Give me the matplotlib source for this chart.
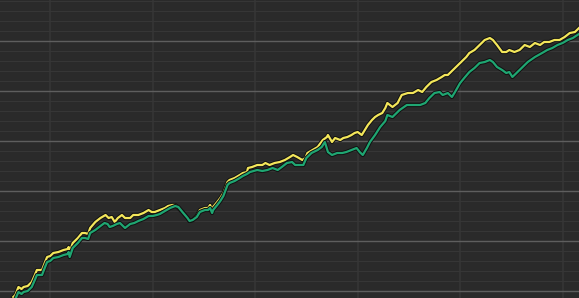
import matplotlib
matplotlib.use("Agg")
import matplotlib.pyplot as plt
import matplotlib.patheffects as pe
from matplotlib.ticker import MultipleLocator

# ---------------------------------------------------------------------
# Data: cumulative return (%) of two strategies, x in decimal years
# ---------------------------------------------------------------------
yellow_x = [
    2014.64, 2014.66, 2014.69, 2014.72, 2014.74, 2014.78, 2014.82, 2014.85, 2014.87, 2014.92,
    2014.95, 2014.97, 2015.00, 2015.03, 2015.08, 2015.13, 2015.17, 2015.18, 2015.19, 2015.22,
    2015.27, 2015.31, 2015.34, 2015.37, 2015.39, 2015.44, 2015.49, 2015.54, 2015.57, 2015.60,
    2015.63, 2015.66, 2015.70, 2015.73, 2015.78, 2015.81, 2015.86, 2015.91, 2015.96, 2015.99,
    2016.02, 2016.07, 2016.12, 2016.15, 2016.19, 2016.22, 2016.24, 2016.29, 2016.34, 2016.36,
    2016.39, 2016.43, 2016.46, 2016.51, 2016.54, 2016.56, 2016.58, 2016.59, 2016.63, 2016.66,
    2016.69, 2016.73, 2016.75, 2016.80, 2016.85, 2016.88, 2016.92, 2016.93, 2016.97, 2017.02,
    2017.07, 2017.10, 2017.14, 2017.19, 2017.24, 2017.29, 2017.34, 2017.37, 2017.41, 2017.46,
    2017.49, 2017.51, 2017.56, 2017.61, 2017.66, 2017.70, 2017.71, 2017.75, 2017.78, 2017.83,
    2017.86, 2017.90, 2017.94, 2017.97, 2018.00, 2018.04, 2018.07, 2018.10, 2018.14, 2018.17,
    2018.20, 2018.24, 2018.27, 2018.29, 2018.34, 2018.39, 2018.43, 2018.49, 2018.54, 2018.59,
    2018.63, 2018.67, 2018.72, 2018.77, 2018.82, 2018.85, 2018.88, 2018.93, 2018.98, 2019.03,
    2019.06, 2019.09, 2019.14, 2019.19, 2019.24, 2019.29, 2019.32, 2019.36, 2019.41, 2019.45,
    2019.48, 2019.53, 2019.58, 2019.63, 2019.68, 2019.73, 2019.78, 2019.82, 2019.87, 2019.92,
    2019.97, 2020.02, 2020.07, 2020.12, 2020.16,
]
yellow_y = [
    -1.2, -0.8, 0.8, 0.4, 0.8, 1.0, 1.8, 3.2, 4.2, 4.2,
    5.8, 6.8, 7.0, 7.6, 7.8, 8.2, 8.4, 8.8, 7.8, 9.6,
    10.6, 11.6, 11.6, 11.4, 12.6, 13.8, 14.6, 15.2, 14.6, 14.8,
    13.8, 14.6, 15.2, 14.6, 14.6, 15.2, 15.2, 15.6, 16.2, 15.8,
    15.8, 16.2, 16.6, 17.0, 17.2, 17.2, 16.8, 15.8, 14.6, 14.0,
    14.2, 15.0, 16.2, 16.6, 16.6, 17.2, 16.2, 16.8, 17.8, 18.6,
    19.6, 21.8, 22.2, 22.6, 23.2, 23.6, 23.8, 24.6, 24.8, 25.2,
    25.2, 25.6, 25.2, 25.6, 25.8, 26.2, 26.8, 27.2, 26.8, 26.2,
    26.6, 27.6, 28.2, 28.8, 30.2, 30.8, 31.2, 29.8, 30.6, 30.2,
    30.6, 30.8, 31.2, 31.6, 31.8, 31.2, 32.2, 33.2, 34.2, 34.8,
    35.2, 35.6, 36.6, 37.6, 36.8, 37.6, 39.2, 39.6, 39.6, 40.2,
    39.8, 40.8, 41.8, 42.2, 42.8, 43.2, 43.2, 44.2, 45.2, 46.2,
    46.8, 47.6, 48.2, 49.2, 50.2, 50.6, 50.2, 49.2, 47.8, 47.8,
    48.2, 47.8, 48.2, 49.2, 48.8, 49.6, 49.2, 49.8, 49.8, 50.2,
    50.2, 50.8, 51.6, 51.8, 52.6,
]

green_x = [
    2014.66, 2014.69, 2014.72, 2014.74, 2014.78, 2014.82, 2014.85, 2014.87, 2014.92, 2014.95,
    2014.97, 2015.00, 2015.03, 2015.08, 2015.13, 2015.17, 2015.18, 2015.19, 2015.22, 2015.27,
    2015.31, 2015.34, 2015.37, 2015.39, 2015.44, 2015.49, 2015.53, 2015.56, 2015.58, 2015.61,
    2015.65, 2015.68, 2015.73, 2015.78, 2015.82, 2015.86, 2015.91, 2015.96, 2016.00, 2016.04,
    2016.07, 2016.12, 2016.17, 2016.22, 2016.25, 2016.29, 2016.34, 2016.36, 2016.39, 2016.43,
    2016.46, 2016.51, 2016.54, 2016.56, 2016.58, 2016.59, 2016.63, 2016.66, 2016.69, 2016.73,
    2016.75, 2016.80, 2016.85, 2016.88, 2016.92, 2016.95, 2017.02, 2017.07, 2017.12, 2017.17,
    2017.22, 2017.26, 2017.31, 2017.36, 2017.39, 2017.44, 2017.47, 2017.50, 2017.55, 2017.61,
    2017.65, 2017.68, 2017.71, 2017.75, 2017.80, 2017.85, 2017.89, 2017.94, 2017.99, 2018.02,
    2018.05, 2018.09, 2018.12, 2018.17, 2018.22, 2018.27, 2018.29, 2018.34, 2018.41, 2018.48,
    2018.54, 2018.61, 2018.66, 2018.70, 2018.75, 2018.80, 2018.83, 2018.88, 2018.92, 2018.95,
    2019.00, 2019.04, 2019.09, 2019.14, 2019.19, 2019.24, 2019.29, 2019.32, 2019.36, 2019.41,
    2019.45, 2019.48, 2019.51, 2019.56, 2019.61, 2019.66, 2019.73, 2019.80, 2019.85, 2019.90,
    2019.95, 2020.00, 2020.05, 2020.10, 2020.16,
]
green_y = [
    -1.6, -0.2, -0.6, -0.2, 0.0, 0.8, 2.2, 3.2, 3.2, 4.8,
    5.8, 6.0, 6.6, 6.8, 7.2, 7.4, 7.8, 6.8, 8.6, 9.6,
    10.6, 10.6, 10.4, 11.6, 12.2, 13.0, 13.6, 13.4, 12.8, 13.0,
    13.4, 13.6, 12.6, 13.4, 13.6, 14.0, 14.4, 15.0, 15.0, 15.2,
    15.4, 16.0, 16.6, 17.0, 16.8, 15.8, 14.6, 14.0, 14.2, 14.8,
    15.8, 16.2, 16.2, 16.6, 15.6, 16.2, 17.2, 18.0, 19.0, 21.2,
    21.6, 22.0, 22.6, 23.0, 23.4, 23.8, 24.2, 24.0, 24.2, 24.6,
    24.2, 24.8, 25.6, 25.8, 25.2, 25.2, 25.2, 26.6, 27.6, 28.2,
    28.8, 29.8, 27.8, 27.2, 27.6, 27.6, 27.8, 28.2, 28.6, 27.8,
    27.2, 28.6, 29.8, 31.2, 32.8, 34.0, 35.2, 34.8, 36.2, 37.2,
    37.2, 37.2, 37.6, 38.6, 39.6, 39.8, 39.2, 39.6, 38.8, 39.8,
    41.6, 42.6, 43.8, 44.6, 45.6, 45.8, 46.2, 45.8, 44.8, 44.2,
    43.6, 43.8, 42.8, 43.8, 44.8, 45.8, 46.8, 47.6, 48.2, 48.6,
    49.2, 49.6, 50.2, 50.6, 51.4,
]

# ---------------------------------------------------------------------
# Plot
# ---------------------------------------------------------------------
bg = "#2a2a2a"
fig = plt.figure(figsize=(5.79, 2.98), dpi=100, facecolor=bg)
ax = fig.add_axes([0, 0, 1, 1], facecolor=bg)

outline = [pe.Stroke(linewidth=3.0, foreground="#111111"), pe.Normal()]
ax.plot(yellow_x, yellow_y, color="#f3e65a", lw=1.6, path_effects=outline, zorder=3)
ax.plot(green_x, green_y, color="#1fa672", lw=1.6, path_effects=outline, zorder=4)

ax.set_xlim(2014.51, 2020.16)
ax.set_ylim(-1.4, 58.2)

ax.xaxis.set_major_locator(MultipleLocator(1))
ax.yaxis.set_major_locator(MultipleLocator(10))
ax.yaxis.set_minor_locator(MultipleLocator(2))

ax.grid(True, axis="y", which="major", color="#5e5e5e", lw=1.0)
ax.grid(True, axis="y", which="minor", color="#363636", lw=0.8)
ax.grid(True, axis="x", which="major", color="#363636", lw=1.2)

ax.tick_params(which="both", length=0, labelbottom=False, labelleft=False)
for s in ax.spines.values():
    s.set_visible(False)

fig.savefig("out.png", dpi=100, facecolor=bg)
